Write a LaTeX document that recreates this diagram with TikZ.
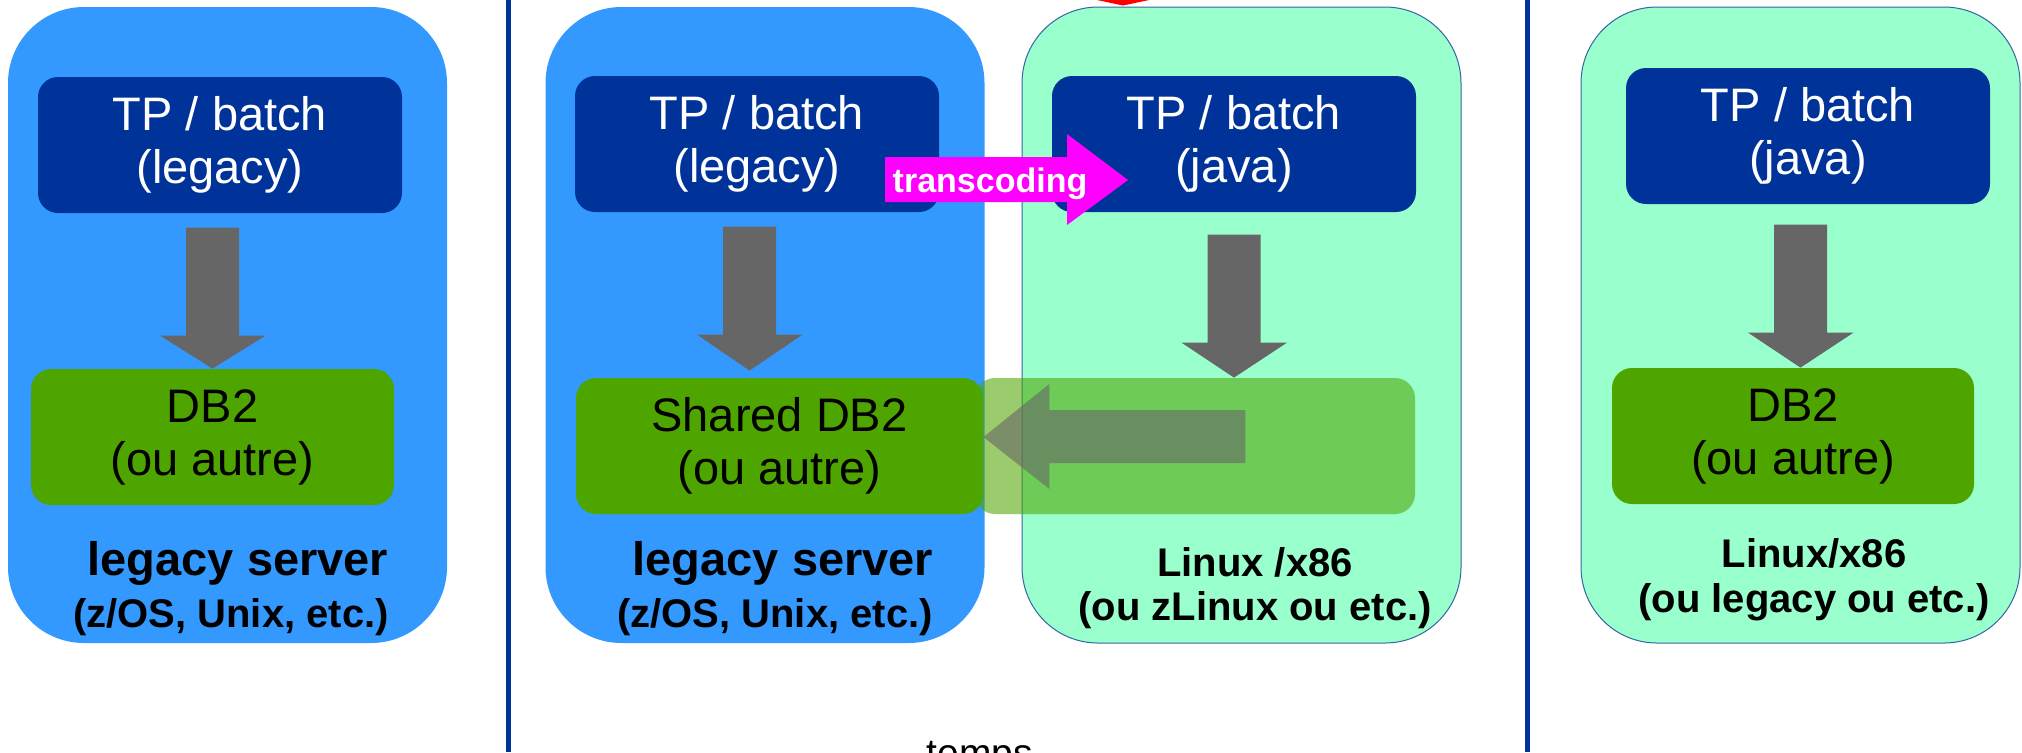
\documentclass[tikz,border=0pt]{standalone}
\usepackage{fontspec}
\setmainfont{Liberation Sans}

\definecolor{srvblue}{HTML}{3399FF}
\definecolor{tpblue}{HTML}{003399}
\definecolor{dbgreen}{HTML}{4EA500}
\definecolor{mint}{HTML}{99FFCC}
\definecolor{mintline}{HTML}{3465A4}
\definecolor{arrowgray}{HTML}{666666}
\definecolor{transpink}{HTML}{FF00FF}
\definecolor{tipred}{HTML}{FF0000}

\tikzset{
    server/.style={rounded corners=38pt, inner sep=0pt, minimum width=219.5pt, minimum height=318pt},
    legacysrv/.style={server, fill=srvblue},
    linuxsrv/.style={server, fill=mint, draw=mintline, line width=0.5pt},
    tpbox/.style={rounded corners=10pt, fill=tpblue, text=white, align=center, inner sep=0pt,
        minimum width=182pt, minimum height=68pt, font=\fontsize{23.5}{26.5}\selectfont,
        execute at begin node={\rule{0pt}{22.5pt}}},
    dbbox/.style={rounded corners=10pt, fill=dbgreen, align=center, inner sep=0pt,
        minimum height=68pt, font=\fontsize{23.5}{26.5}\selectfont,
        execute at begin node={\rule{0pt}{22.5pt}}},
    srvlabel/.style={anchor=base, inner sep=0pt, font=\fontsize{23.5}{26}\selectfont\bfseries},
    srvsub/.style={anchor=base, inner sep=0pt, font=\fontsize{20}{24}\selectfont\bfseries},
    sepline/.style={draw=tpblue, line width=2.5pt}
}

\begin{document}
\begin{tikzpicture}[x=0.5pt, y=-0.5pt]
    \useasboundingbox (0,0) rectangle (2022,752);

    % time separators
    \draw[sepline] (508,0) -- (508,752);
    \draw[sepline] (1527.5,0) -- (1527.5,752);

    % servers
    \node[legacysrv] (srvA) at (227.5,325) {};
    \node[legacysrv] (srvB) at (765,325) {};
    \node[linuxsrv] (srvC) at (1241.5,325) {};
    \node[linuxsrv] (srvD) at (1800.5,325) {};

    \node[tpbox] (tpA) at (220,145) {TP / batch\\(legacy)};
    \node[tpbox] (tpB) at (757,144) {TP / batch\\(legacy)};
    \node[tpbox] (tpC) at (1234,144) {TP / batch\\(java)};
    \node[tpbox] (tpD) at (1808,136) {TP / batch\\(java)};

    \node[dbbox, fill opacity=0.57, text opacity=1, minimum width=220pt] (dbext) at (1195,446) {};
    \node[dbbox, minimum width=181.5pt] (dbA) at (212.5,437) {DB2\\(ou autre)};
    \node[dbbox, minimum width=203.5pt] (shdb) at (779.5,446) {Shared DB2\\(ou autre)};
    \node[dbbox, minimum width=181pt] (dbD) at (1793,436) {DB2\\(ou autre)};

    % block arrows
    \fill[arrowgray] (dbA.north) -- ++(-52.5,-33) -- ++(26,0) -- ++(0,-108) -- ++(53,0) -- ++(0,108) -- ++(26.5,0) -- cycle;
    \fill[arrowgray] ([xshift=-15pt, yshift=3.5pt]shdb.north) -- ++(-52.5,-36) -- ++(26,0) -- ++(0,-108) -- ++(53,0) -- ++(0,108) -- ++(26.5,0) -- cycle;
    \fill[arrowgray] (tpC.south |- dbext.north) -- ++(-52.5,-35) -- ++(26,0) -- ++(0,-108) -- ++(53,0) -- ++(0,108) -- ++(26.5,0) -- cycle;
    \fill[arrowgray] (dbD.north -| srvD.north) -- ++(-52.5,-35) -- ++(26,0) -- ++(0,-108) -- ++(53,0) -- ++(0,108) -- ++(26.5,0) -- cycle;
    \fill[arrowgray, fill opacity=0.6] ([yshift=4.5pt]shdb.east) -- ++(66,-53) -- ++(0,26) -- ++(196,0) -- ++(0,53) -- ++(-196,0) -- ++(0,26) -- cycle;

    \fill[transpink] (885,157) -- (1067,157) -- (1067,134) -- (1128,180) -- (1067,225) -- (1067,202) -- (885,202) -- cycle;
    \node[anchor=base, inner sep=0pt, text=white, font=\fontsize{17}{20}\selectfont\bfseries] (trans) at (990,192) {transcoding};

    \fill[tipred] (1097,0) -- (1149,0) -- (1123,5.5) -- cycle;

    % labels
    \node[srvlabel] (labA) at (238,575) {legacy server};
    \node[srvsub] (subA) at (231,627) {(z/OS, Unix, etc.)};
    \node[srvlabel] (labB) at (783,575) {legacy server};
    \node[srvsub] (subB) at (775,627) {(z/OS, Unix, etc.)};
    \node[srvsub] (labC) at (1255,576) {Linux /x86};
    \node[srvsub] (subC) at (1255,620) {(ou zLinux ou etc.)};
    \node[srvsub] (labD) at (1814,567) {Linux/x86};
    \node[srvsub] (subD) at (1814,612) {(ou legacy ou etc.)};

    \node[anchor=base, inner sep=0pt, font=\fontsize{19.5}{22}\selectfont] (temps) at (980,766) {temps};
\end{tikzpicture}
\end{document}
